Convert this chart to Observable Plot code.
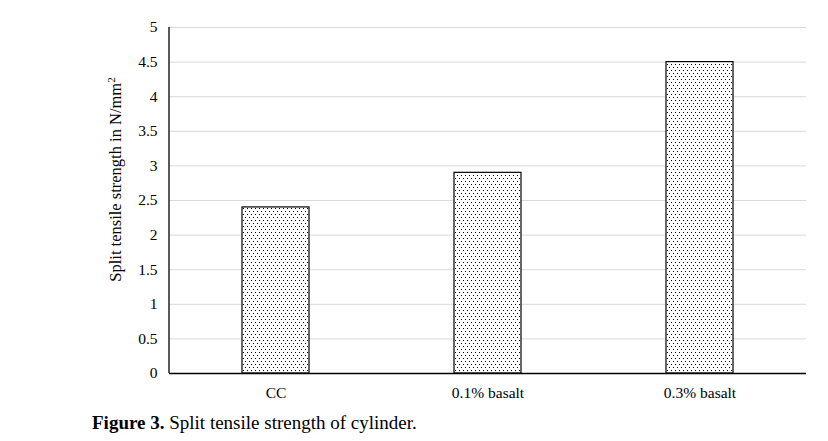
<!DOCTYPE html>
<html>
<head>
<meta charset="utf-8">
<script src="https://cdn.jsdelivr.net/npm/d3@7"></script>
<script src="https://cdn.jsdelivr.net/npm/@observablehq/plot@0.6"></script>
<style>
  body { margin: 0; background: #fff; }
  #chart svg { display: block; }
  #chart svg, #chart svg text { font-family: "Liberation Serif", "Times New Roman", serif !important; }
  #chart [aria-label='y-axis label'] text { font-size: 16.5px; }
  #caption { font-family: "Liberation Serif", "Times New Roman", serif; font-size: 19px; color: #000; margin: 7px 0 0 92px; }
</style>
</head>
<body>
<div id="chart"></div>
<div id="caption"><b>Figure 3.</b> Split tensile strength of cylinder.</div>
<script>
const categories = ["CC", "0.1% basalt", "0.3% basalt"];
const strength = [2.4, 2.9, 4.5];
const yTicks = [0, 0.5, 1, 1.5, 2, 2.5, 3, 3.5, 4, 4.5, 5];
const yTickLabels = ["0", "0.5", "1", "1.5", "2", "2.5", "3", "3.5", "4", "4.5", "5"];
const yLabel = "Split tensile strength in N/mm";
const yLabelSup = "2";

const data = categories.map((c, i) => ({category: c, value: strength[i]}));

const chart = Plot.plot({
  width: 828,
  height: 405,
  marginLeft: 169,
  marginRight: 22,
  marginTop: 27,
  marginBottom: 32,
  style: {fontSize: "15.5px", background: "#fff", color: "#000"},
  x: {domain: categories, paddingInner: 0.685, paddingOuter: 0.3425, label: null},
  y: {domain: [0, 5], ticks: yTicks, label: null},
  marks: [
    () => {
      const ns = "http://www.w3.org/2000/svg";
      const defs = document.createElementNS(ns, "defs");
      const pat = document.createElementNS(ns, "pattern");
      pat.setAttribute("id", "dots");
      pat.setAttribute("patternUnits", "userSpaceOnUse");
      pat.setAttribute("width", "4");
      pat.setAttribute("height", "6");
      const bg = document.createElementNS(ns, "rect");
      bg.setAttribute("width", "4"); bg.setAttribute("height", "6"); bg.setAttribute("fill", "#fff");
      pat.appendChild(bg);
      [[1,1],[3,4]].forEach(([x,y]) => {
        const r = document.createElementNS(ns, "rect");
        r.setAttribute("x", x); r.setAttribute("y", y);
        r.setAttribute("width", "1"); r.setAttribute("height", "1");
        r.setAttribute("fill", "#000");
        pat.appendChild(r);
      });
      defs.appendChild(pat);
      return defs;
    },
    Plot.gridY(yTicks, {stroke: "#d9d9d9", strokeOpacity: 1, strokeWidth: 1}),
    Plot.barY(data, {x: "category", y: "value", fill: "url(#dots)", stroke: "#000", strokeWidth: 1.2}),
    Plot.ruleY([0], {stroke: "#000", strokeWidth: 1.3}),
    (index, scales, values, dimensions) => {
      const ns = "http://www.w3.org/2000/svg";
      const line = document.createElementNS(ns, "line");
      const x0 = dimensions.marginLeft;
      line.setAttribute("x1", x0); line.setAttribute("x2", x0);
      line.setAttribute("y1", scales.y(5)); line.setAttribute("y2", scales.y(0));
      line.setAttribute("stroke", "#000"); line.setAttribute("stroke-width", "1.3");
      return line;
    },
    Plot.axisY(yTicks, {tickSize: 0, tickPadding: 12, tickFormat: (d) => yTickLabels[yTicks.indexOf(d)], label: yLabel + yLabelSup, labelAnchor: "center", labelArrow: "none", labelOffset: 60, fontSize: 15.5}),
    Plot.axisX({tickSize: 0, tickPadding: 13, label: null, fontSize: 15.5})
  ]
});
document.getElementById("chart").appendChild(chart);
// y-axis label: real superscript and upward shift to match the reference's placement
d3.select(chart).selectAll("[aria-label='y-axis label'] text").each(function() {
  const t = this.getAttribute("transform") || "";
  this.setAttribute("transform", "translate(0,-21) " + t);
  const sel = d3.select(this);
  sel.text(null);
  sel.append("tspan").text(yLabel);
  sel.append("tspan").attr("baseline-shift", "super").attr("font-size", "11px").text(yLabelSup);
});
</script>
</body>
</html>
